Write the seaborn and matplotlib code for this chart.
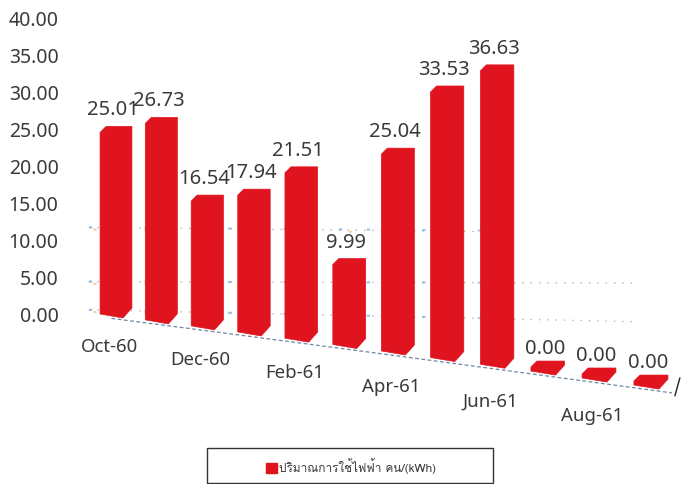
import numpy as np
import matplotlib.pyplot as plt
import seaborn as sns
from matplotlib.patches import Patch, Polygon, Rectangle
from matplotlib.transforms import Affine2D, IdentityTransform
from matplotlib import font_manager

plt.switch_backend('Agg')

# Values
months = ["Oct-60", "Nov-60", "Dec-60", "Jan-61", "Feb-61", "Mar-61",
          "Apr-61", "May-61", "Jun-61", "Jul-61", "Aug-61", "Sep-61"]
usage = [25.01, 26.73, 16.54, 17.94, 21.51, 9.99, 25.04, 33.53, 36.63, 0.00, 0.00, 0.00]
y_ticks = [0, 5, 10, 15, 20, 25, 30, 35, 40]
shown_months = ["Oct-60", "Dec-60", "Feb-61", "Apr-61", "Jun-61", "Aug-61"]
legend_label = "ปริมาณการใช้ไฟฟ้า คน/(kWh)"

RED = "#E0141E"
TEXT = "#3a3a3a"

sns.set_theme(style="white")
plt.rcParams['font.family'] = ['Noto Sans', 'DejaVu Sans']

W, H = 681, 484
fig = plt.figure(figsize=(W / 100, H / 100), dpi=100)
ax = fig.add_axes([60 / W, 0, 1 - 60 / W, 1])
ax.patch.set_alpha(0)

sns.barplot(x=months, y=usage, color=RED, width=0.53, saturation=1, ax=ax, zorder=3)

# one category = 45 px, 7.425 px per kWh on the y axis
ax.set_xlim(-56 / 45, (W - 116) / 45)
ax.set_ylim(-(H - 315) / 7.425, 315 / 7.425)
ax.set_yticks(y_ticks)
ax.set_yticklabels([f"{t:.2f}" for t in y_ticks], fontsize=14, color=TEXT)
ax.tick_params(axis='y', pad=1, length=0)
ax.set_xticks([])
ax.set_xlabel("")
ax.set_ylabel("")
sns.despine(ax=ax, left=True, bottom=True)


# fake perspective: each bar moves right/down and grows a bit going along the floor
def bar_transform(i):
    base = ax.transData.transform((0, 0))[1]
    k = (7.1 + 0.1 * i) / 7.425
    return (ax.transData
            + Affine2D().translate(0, -base).scale(1, k).translate(0, base)
            + Affine2D().translate(0.33 * i ** 2, -(5.8 * i + 0.06 * i ** 2)))


# faint scanned gridlines behind the bars
for y0, y1, end in [(11.8, 11.2, 8.7), (4.5, 4.3, 11.5), (0.7, -0.9, 11.5)]:
    ax.plot([-0.6, end], [y0, y1], color="#777777", linewidth=1.0,
            linestyle=(0, (1, 5)), alpha=0.55, zorder=1)
    ax.plot([-0.6, min(end, 8.7)], [y0, y0 + (y1 - y0) * 0.75], color="#4a90d0", linewidth=1.6,
            linestyle=(0, (1.5, 11)), alpha=0.5, zorder=1)
    ax.plot([-0.5, min(end, 8.7)], [y0 - 0.3, y0 - 0.3 + (y1 - y0) * 0.75], color="#e8a030", linewidth=1.5,
            linestyle=(0, (1.5, 23)), alpha=0.5, zorder=1)

for i, bar in enumerate(ax.patches):
    tr = bar_transform(i)
    x0, w, h = bar.get_x(), bar.get_width(), bar.get_height()
    (lx, by), (rx, ty) = tr.transform([(x0, 0), (x0 + w, h)])
    lx -= 4 + 0.1 * i
    rx += 4 + 0.1 * i
    low = by - 3
    top = ty + 11
    shape = [(lx, low + 4), (rx - 9, low), (rx, low + 10), (rx, top),
             (lx + 6, top), (lx, top - 6)]
    ax.add_patch(Polygon(shape, closed=True, facecolor=RED, edgecolor=RED, linewidth=0.5,
                         transform=IdentityTransform(), zorder=3))
    bar.set_visible(False)
    centre = (lx + rx) / 2
    # value label above the bar, zero bars have theirs closer
    gap = 16 if usage[i] > 0 else 12
    ax.text(centre - 3, top + gap, f"{usage[i]:.2f}",
            transform=IdentityTransform(), ha='center', va='center',
            fontsize=14.5, color=TEXT, zorder=5)
    # every second month is labelled
    if months[i] in shown_months:
        ax.text(centre - 7, low - 29 - 0.5 * i, months[i],
                transform=IdentityTransform(), ha='center', va='center',
                fontsize=13.4, color=TEXT, zorder=5)

# floor edge
floor = []
for i in [-0.1, 2, 4, 6, 8, 10, 11.4]:
    floor.append(bar_transform(i).transform((i, 0)) - np.array([0, 4]))
floor = np.array(floor)
ax.plot(floor[:, 0], floor[:, 1], transform=IdentityTransform(), color="#33527a",
        linewidth=0.9, linestyle=(0, (3, 2)), alpha=0.7, zorder=2)
ax.plot([floor[-1, 0] + 3, floor[-1, 0] + 8], [floor[-1, 1] - 3, floor[-1, 1] + 15],
        transform=IdentityTransform(), color="#222222", linewidth=1.0, zorder=2)

# legend box
fig.add_artist(Rectangle((207 / W, 1 - 483 / H), 286 / W, 35 / H, transform=fig.transFigure,
                         facecolor="white", edgecolor="#333333", linewidth=1.0))
thai = [f.name for f in font_manager.fontManager.ttflist if 'Thai' in f.name or 'Loma' in f.name]
fig.legend(handles=[Patch(color=RED, label=legend_label)], loc='center',
           bbox_to_anchor=(351 / W, 1 - 466 / H), frameon=False,
           handlelength=0.9, handleheight=1.0, handletextpad=0.2, labelcolor=TEXT,
           prop={'family': thai + ['Noto Sans', 'DejaVu Sans'], 'size': 8.5})

fig.savefig("out.png", dpi=100)
